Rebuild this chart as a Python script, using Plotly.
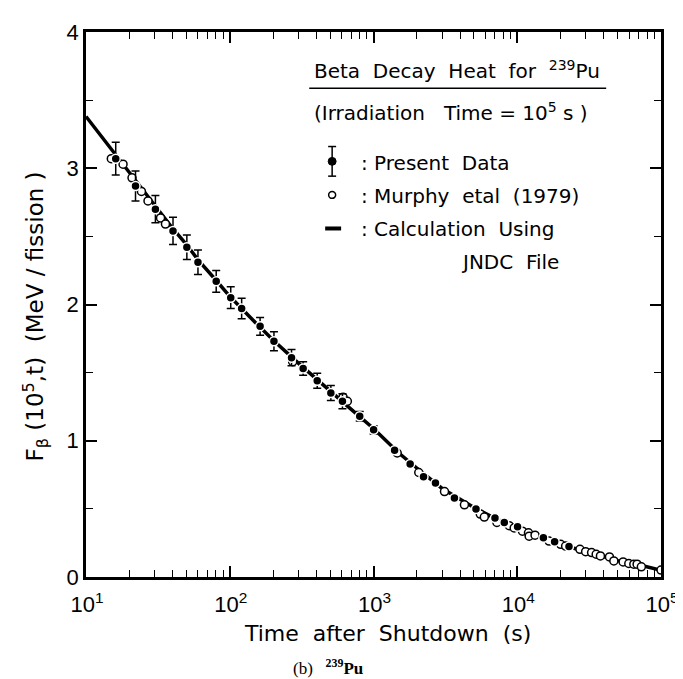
import plotly.graph_objects as go

# ---- data ----
present_t = [16.1, 22.1, 30.4, 40.3, 50.3, 60.1, 80.5, 101.6, 121, 162.6, 203, 269, 324, 406, 505, 608,
             802, 1002, 1402, 1799, 2228, 2698, 3655, 5164, 7000, 8125, 10050, 15200, 18200, 22900]
present_f = [3.07, 2.87, 2.70, 2.54, 2.42, 2.31, 2.17, 2.05, 1.97, 1.84, 1.73, 1.61, 1.53, 1.44, 1.35, 1.29,
             1.18, 1.08, 0.93, 0.83, 0.735, 0.69, 0.58, 0.50, 0.433, 0.40, 0.368, 0.288, 0.259, 0.223]
present_err = [0.12, 0.11, 0.10, 0.10, 0.09, 0.09, 0.08, 0.08, 0.075, 0.065, 0.07, 0.06, 0.05, 0.055, 0.055, 0.055,
               0.035, 0.03, 0, 0, 0, 0, 0, 0, 0, 0, 0, 0, 0, 0]

murphy_t = [15.0, 18.1, 20.9, 24.3, 27.0, 33.0, 35.7, 274, 614, 658, 1462, 2065, 3118, 4290, 5530, 5900,
            7220, 8790, 9520, 10870, 11970, 12100, 13300, 16640, 20040, 21700, 27300, 29900, 32900, 35400,
            37900, 43800, 47000, 54500, 59700, 64700, 68200, 73000, 100000]
murphy_f = [3.07, 3.03, 2.93, 2.83, 2.76, 2.635, 2.59, 1.58, 1.32, 1.29, 0.91, 0.767, 0.627, 0.53, 0.462, 0.44,
            0.40, 0.377, 0.36, 0.336, 0.324, 0.30, 0.307, 0.264, 0.24, 0.227, 0.203, 0.186, 0.179, 0.167,
            0.155, 0.147, 0.118, 0.111, 0.099, 0.094, 0.094, 0.075, 0.051]

calc_t = [10, 15, 20, 30, 40, 50, 60, 80, 100, 150, 200, 300, 500, 700, 1000, 1500, 2000, 3000, 5000,
          7000, 10000, 20000, 30000, 50000, 70000, 100000]
calc_f = [3.38, 3.14, 2.97, 2.73, 2.56, 2.44, 2.33, 2.18, 2.06, 1.87, 1.74, 1.57, 1.36, 1.23, 1.09, 0.91,
          0.80, 0.65, 0.51, 0.43, 0.36, 0.24, 0.185, 0.12, 0.09, 0.05]

x_tickvals = [10, 100, 1000, 10000, 100000]
x_ticktext = ["10<sup>1</sup>", "10<sup>2</sup>", "10<sup>3</sup>", "10<sup>4</sup>", "10<sup>5</sup>"]
y_tickvals = [0, 1, 2, 3, 4]
x_minor = [m * 10 ** d for d in range(1, 5) for m in range(2, 10)]

FONT = "DejaVu Sans"
TICKFONT = "Liberation Sans"
NB = "\u00a0"

fig = go.Figure()

fig.add_trace(go.Scatter(x=calc_t, y=calc_f, mode="lines",
                         line=dict(color="black", width=3.5), showlegend=False))
fig.add_trace(go.Scatter(x=murphy_t, y=murphy_f, mode="markers",
                         marker=dict(symbol="circle", size=8, color="white",
                                     line=dict(color="black", width=1.5)),
                         showlegend=False))
fig.add_trace(go.Scatter(x=present_t, y=present_f, mode="markers",
                         error_y=dict(type="data", array=present_err, visible=True,
                                      color="black", thickness=1.5, width=4),
                         marker=dict(symbol="circle", size=9, color="black",
                                     line=dict(color="white", width=1.5)),
                         showlegend=False))

fig.update_xaxes(type="log", range=[1, 5], tickmode="array", tickvals=x_tickvals, ticktext=x_ticktext,
                 ticks="inside", ticklen=11, tickwidth=1.5, tickcolor="black",
                 showline=True, linewidth=2.5, linecolor="black", mirror="ticks",
                 showgrid=False, zeroline=False, ticklabelstandoff=6, ticklabelshift=1,
                 minor=dict(tickmode="array", tickvals=x_minor, ticks="inside", ticklen=7,
                            tickwidth=1.2, tickcolor="black", showgrid=False),
                 tickfont=dict(family=TICKFONT, size=22, color="black"))
fig.update_yaxes(range=[0, 4], tickmode="array", tickvals=y_tickvals,
                 ticks="inside", ticklen=11, tickwidth=1.5, tickcolor="black",
                 showline=True, linewidth=2.5, linecolor="black", mirror="ticks",
                 showgrid=False, zeroline=False,
                 minor=dict(dtick=0.5, ticks="inside", ticklen=7, tickwidth=1.2,
                            tickcolor="black", showgrid=False),
                 tickfont=dict(family=TICKFONT, size=22, color="black"))

# pixel -> paper helpers for the plot area (78..655 x 17..569)
def px(x):
    return (x - 78) / 577.0

def py(y):
    return (569 - y) / 552.0

ann = []
def text(x, y, s, size=20, xanchor="left", family=FONT, angle=0):
    ann.append(dict(x=px(x), y=py(y), xref="paper", yref="paper", text=s, showarrow=False,
                    xanchor=xanchor, yanchor="middle", textangle=angle,
                    font=dict(family=family, size=size, color="black")))

text(305, 55, "Beta" + NB + " Decay" + NB + " Heat" + NB + " for" + NB + " <sup>239</sup>Pu")
text(305, 98, "(Irradiation" + NB * 3 + "Time" + NB + "=" + NB + "10<sup>5</sup>" + NB + "s" + NB + ")")
text(352, 150, ":" + NB + "Present" + NB + " Data")
text(352, 183, ":" + NB + "Murphy" + NB + " etal" + NB + " (1979)")
text(352, 217, ":" + NB + "Calculation" + NB + NB + "Using")
text(452, 250, "JNDC" + NB + " File")
text(381, 626, "Time" + NB + NB + "after" + NB + NB + "Shutdown" + NB + NB + "(s)", size=22, xanchor="center")
text(27, 305, "F<sub>β</sub>" + NB + "(10<sup>5</sup>,t)" + NB + NB + "(MeV" + NB + "/" + NB + "fission" + NB + ")",
     size=23, xanchor="center", angle=-90)
text(321, 660, "(b)" + NB * 3 + "<b><sup>239</sup>Pu</b>", size=17, xanchor="center",
     family="Liberation Serif")

shapes = []
# rule under title
shapes.append(dict(type="line", xref="paper", yref="paper", x0=px(302), x1=px(600), y0=py(74), y1=py(74),
                   line=dict(color="black", width=1.5)))
# legend: error bar symbol
shapes.append(dict(type="line", xref="paper", yref="paper", x0=px(325), x1=px(325), y0=py(133), y1=py(163),
                   line=dict(color="black", width=1.5)))
for yy in (133, 163):
    shapes.append(dict(type="line", xref="paper", yref="paper", x0=px(321), x1=px(329), y0=py(yy), y1=py(yy),
                       line=dict(color="black", width=1.5)))
shapes.append(dict(type="circle", xref="paper", yref="paper", x0=px(321), x1=px(329), y0=py(144), y1=py(152),
                   fillcolor="black", line=dict(color="black", width=1)))
# open circle
shapes.append(dict(type="circle", xref="paper", yref="paper", x0=px(321.5), x1=px(328.5), y0=py(178.5), y1=py(185.5),
                   fillcolor="white", line=dict(color="black", width=1.5)))
# calc line
shapes.append(dict(type="line", xref="paper", yref="paper", x0=px(318), x1=px(334), y0=py(216), y1=py(216),
                   line=dict(color="black", width=4)))

fig.update_layout(width=683, height=679, margin=dict(l=78, r=28, t=17, b=110),
                  paper_bgcolor="white", plot_bgcolor="white",
                  annotations=ann, shapes=shapes, showlegend=False)

fig.write_html("out.html")
